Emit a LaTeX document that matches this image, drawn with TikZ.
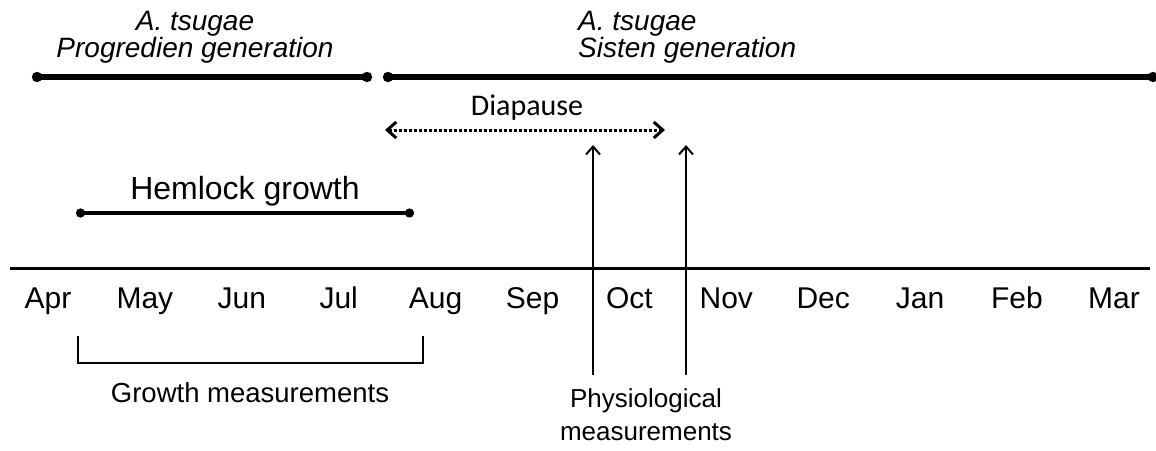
\documentclass[tikz,border=0pt]{standalone}
\usepackage{fontspec}
\setmainfont{Liberation Sans}
\newfontfamily\diafont{Carlito}
\usetikzlibrary{arrows.meta, positioning}
\tikzset{
	month/.style={anchor=base, inner sep=0pt, font=\fontsize{30}{32}\selectfont},
	gentitle/.style={inner sep=0pt, font=\fontsize{28}{27}\selectfont\itshape},
	caption/.style={anchor=base, inner sep=0pt, align=center, font=\fontsize{27}{33}\selectfont},
	genline/.style={line width=5.5pt, {Circle[length=10pt]}-{Circle[length=10pt]}},
	growline/.style={line width=3.5pt, {Circle[length=9pt]}-{Circle[length=9pt]}},
	measure/.style={line width=2pt, -{Straight Barb[length=8pt, width=14pt, line width=2pt]}},
}

\begin{document}
\begin{tikzpicture}[x=1pt, y=-1pt]
		\useasboundingbox (0,0) rectangle (1156,450);
		
		% generations
		\node (prog) [gentitle, anchor=base, align=center] at (195,57) {A. tsugae\\Progredien generation};
		\node (sist) [gentitle, anchor=base west, align=left] at (578,57) {A. tsugae\\Sisten generation};
		\coordinate (prog-a) at (32,77);
		\coordinate (prog-b) at (372,77);
		\coordinate (sist-a) at (383,77);
		\coordinate (sist-b) at (1158,77);
		\draw [genline] (prog-a) -- (prog-b);
		\draw [genline] (sist-a) -- (sist-b);
		
		% diapause
		\node (dia) [anchor=base, inner sep=0pt, font=\fontsize{30}{32}\selectfont\diafont] at (527,115) {Diapause};
		\coordinate (dia-a) at (385,130);
		\coordinate (dia-b) at (665,130);
		\draw [line width=3pt, dash pattern=on 3pt off 2pt, {Straight Barb[length=9pt, width=16pt, line width=3pt]}-{Straight Barb[length=9pt, width=16pt, line width=3pt]}] (dia-a) -- (dia-b);
		
		% hemlock growth
		\node (grow) [caption, font=\fontsize{32}{32}\selectfont] at (245,199) {Hemlock growth};
		\coordinate (grow-a) at (76,213);
		\coordinate (grow-b) at (414,213);
		\draw [growline] (grow-a) -- (grow-b);
		
		% time axis
		\coordinate (axis-a) at (10,268);
		\coordinate (axis-b) at (1150,268);
		\draw [line width=3pt] (axis-a) -- (axis-b);
		\foreach \m [count=\i from 0] in {Apr,May,Jun,Jul,Aug,Sep,Oct,Nov,Dec,Jan,Feb,Mar}
			\node (m\i) [month] at (48+96.9*\i,308) {\m};
		
		% growth measurements
		\coordinate (gm-a) at (78,336);
		\coordinate (gm-b) at (423,336);
		\draw [line width=1.5pt] (gm-a) -- ++(0,27) -| (gm-b);
		\node (gm) [caption, font=\fontsize{27.5}{33}\selectfont] at (250,402) {Growth measurements};
		
		% physiological measurements
		\node (pm) [caption, font=\fontsize{26}{33}\selectfont] at (646,440) {Physiological\\measurements};
		\coordinate (pm1-a) at (593,375);
		\coordinate (pm1-b) at (593,145);
		\coordinate (pm2-a) at (686,375);
		\coordinate (pm2-b) at (686,145);
		\draw [measure] (pm1-a) -- (pm1-b);
		\draw [measure] (pm2-a) -- (pm2-b);
	\end{tikzpicture}
\end{document}
